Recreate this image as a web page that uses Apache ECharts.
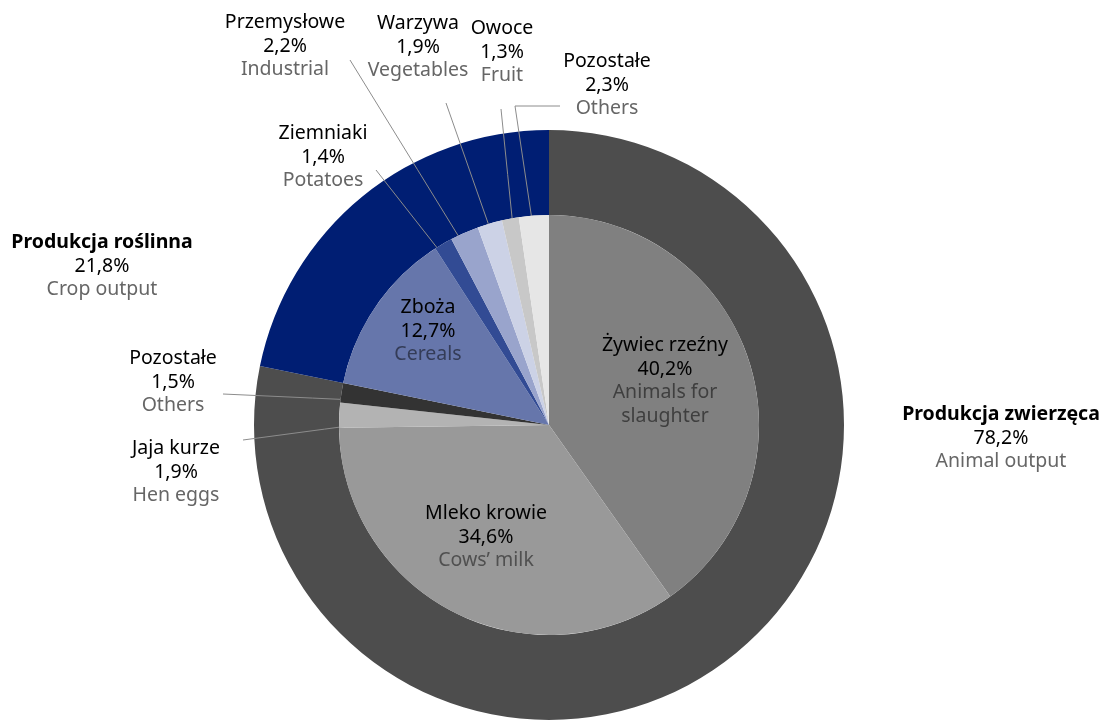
<!DOCTYPE html>
<html>
<head>
<meta charset="utf-8">
<script src="https://cdn.jsdelivr.net/npm/echarts@6/dist/echarts.min.js"></script>
<style>
  html, body { margin: 0; padding: 0; background: #fff; }
  #chart { width: 1104px; height: 724px; }
</style>
</head>
<body>
<div id="chart"></div>
<script>
// outer ring: main groups
const groupNames = ['Produkcja zwierzęca', 'Produkcja roślinna']
const groupEnglish = ['Animal output', 'Crop output']
const groupValues = [78.2, 21.8]

// inner pie: products (clockwise from 12 o'clock)
const itemNames = ['Żywiec rzeźny', 'Mleko krowie', 'Jaja kurze', 'Pozostałe',
  'Zboża', 'Ziemniaki', 'Przemysłowe', 'Warzywa', 'Owoce', 'Pozostałe']
const itemEnglish = ['Animals for\nslaughter', 'Cows’ milk', 'Hen eggs', 'Others',
  'Cereals', 'Potatoes', 'Industrial', 'Vegetables', 'Fruit', 'Others']
const itemValues = [40.2, 34.6, 1.9, 1.5, 12.7, 1.4, 2.2, 1.9, 1.3, 2.3]

// styling / layout
const FONT = 'Noto Sans'
const CX = 549, CY = 425, R_IN = 210, R_OUT = 295
const groupColors = ['#4d4d4d', '#001e73']
const itemColors = ['#808080', '#999999', '#b3b3b3', '#333333',
  '#6676ab', '#324b94', '#99a4cc', '#ccd2e6', '#c8c8c8', '#e6e6e6']
const groupLabelPos = [[1001, 438], [102, 266]]
const itemLabelPos = [[665, 381], [486, 537], [176, 472], [173, 382],
  [428, 331], [323, 157], [285, 46], [418, 47], [502, 52], [607, 85]]
// leader lines: start near label, optional bend, anchor radius in slice
const itemLineStart = [null, null, [243, 440], [223, 394], null,
  [376, 170], [350, 60], [446, 103], [501, 109], [560, 106]]
const itemLineBend = [null, null, null, null, null, null, null, null, null, [515, 106]]
const itemAnchorR = [0, 0, 143, 149, 0, 156, 160, 181, 188, 177]
const itemSubColor = ['#3f3f3f', '#505050', '#666666', '#666666', '#343c57',
  '#666666', '#666666', '#666666', '#666666', '#666666']

const fmtPct = v => v.toFixed(1).replace('.', ',') + '%'

const total = itemValues.reduce((a, b) => a + b, 0)
const anchorOf = (i) => {
  let before = 0
  for (let k = 0; k < i; k++) before += itemValues[k]
  const a = (before + itemValues[i] / 2) / total * Math.PI * 2
  return [CX + Math.sin(a) * itemAnchorR[i], CY - Math.cos(a) * itemAnchorR[i]]
}

const richBase = (bold, sub) => ({
  a: { fontFamily: FONT, fontSize: 19.5, fontWeight: bold ? 'bold' : 'normal', color: '#000', lineHeight: 23.5, align: 'center' },
  b: { fontFamily: FONT, fontSize: 19.5, color: '#000', lineHeight: 23.5, align: 'center' },
  c: { fontFamily: FONT, fontSize: 19.5, color: sub, lineHeight: 23.5, align: 'center' }
})

const chart = echarts.init(document.getElementById('chart'))

const option = {
  animation: false,
  series: [
    {
      type: 'pie',
      z: 3,
      center: [CX, CY],
      radius: [0, R_IN],
      startAngle: 90,
      clockwise: true,
      avoidLabelOverlap: false,
      data: itemValues.map((v, i) => ({
        name: itemNames[i],
        value: v,
        itemStyle: { color: itemColors[i] },
        label: {
          show: true,
          formatter: () => '{a|' + itemNames[i] + '}\n{b|' + fmtPct(v) + '}\n' +
            itemEnglish[i].split('\n').map(s => '{c|' + s + '}').join('\n'),
          rich: richBase(false, itemSubColor[i])
        },
        labelLine: { show: !!itemLineStart[i] }
      })),
      label: { position: 'outside' },
      labelLine: { show: true, lineStyle: { color: '#8c8c8c', width: 1 } },
      labelLayout: (p) => {
        const i = p.dataIndex
        const pos = itemLabelPos[i]
        const res = { x: pos[0], y: pos[1], align: 'center', verticalAlign: 'middle' }
        if (itemLineStart[i]) {
          const pts = [itemLineStart[i]]
          if (itemLineBend[i]) pts.push(itemLineBend[i])
          pts.push(anchorOf(i))
          // ECharts expects exactly 3 points
          if (pts.length === 2) pts.splice(1, 0, [(pts[0][0] + pts[1][0]) / 2, (pts[0][1] + pts[1][1]) / 2])
          res.labelLinePoints = pts.reverse()
        }
        return res
      },
      emphasis: { disabled: true }
    },
    {
      type: 'pie',
      z: 2,
      center: [CX, CY],
      radius: [R_IN, R_OUT],
      startAngle: 90,
      clockwise: true,
      avoidLabelOverlap: false,
      data: groupValues.map((v, i) => ({
        name: groupNames[i],
        value: v,
        itemStyle: { color: groupColors[i] },
        label: {
          show: true,
          formatter: () => '{a|' + groupNames[i] + '}\n{b|' + fmtPct(v) + '}\n{c|' + groupEnglish[i] + '}',
          rich: richBase(true, '#666666')
        }
      })),
      label: { position: 'outside' },
      labelLine: { show: false },
      labelLayout: (p) => {
        const pos = groupLabelPos[p.dataIndex]
        return { x: pos[0], y: pos[1], align: 'center', verticalAlign: 'middle' }
      },
      emphasis: { disabled: true }
    }
  ]
}

chart.setOption(option)
</script>
</body>
</html>
